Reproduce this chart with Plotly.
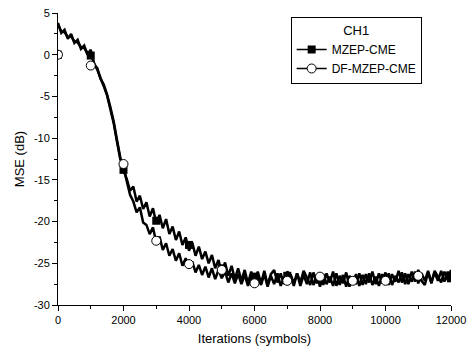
import plotly.graph_objects as go

# ---- data ----
step = 100
mzep_y = [
    3.8, 2.6, 3.0, 1.9, 2.5, 1.4, 1.8, 0.7, 1.1, 0.0,
    0.6, -1.2, -1.6, -2.9, -3.6, -4.8, -6.3, -8.0, -10.2, -12.3,
    -13.8, -14.9, -16.3, -15.8, -17.6, -16.9, -18.5, -17.7, -19.4, -18.4,
    -20.2, -19.2, -20.8, -19.7, -21.5, -20.6, -22.2, -21.2, -22.8, -21.9,
    -23.5, -22.5, -24.1, -23.0, -24.5, -23.6, -25.0, -24.0, -25.6, -24.6,
    -26.1, -24.9, -26.5, -25.3, -26.9, -25.6, -27.1, -25.8, -27.4, -26.0,
    -27.2,
    -26.0, -27.4, -25.9, -27.6, -26.3, -25.8, -27.3, -26.2, -27.5, -26.0,
    -26.4, -27.7, -26.2, -27.3, -25.9, -26.7, -27.6, -26.1, -27.4, -26.4,
    -27.6, -26.2, -27.3, -26.0, -27.7, -26.5, -27.4, -26.1, -27.8, -26.6,
    -27.5, -26.2, -27.6, -26.3, -27.3, -26.0, -27.5, -26.2, -27.4, -26.1,
    -27.6, -26.3, -27.2, -25.9, -27.3, -26.2, -27.5, -26.0, -27.2, -25.8,
    -27.1, -27.6, -26.1, -27.4, -25.9, -26.6, -27.3, -26.0, -27.0, -25.8,
]
df_y = [
    3.6, 2.8, 2.7, 2.1, 2.2, 1.6, 1.5, 0.9, 0.8, 0.2,
    0.3, -1.0, -1.8, -2.7, -3.8, -4.9, -6.5, -8.2, -10.4, -12.5,
    -13.5, -15.3, -16.8, -17.6, -18.9, -18.3, -20.1, -20.4, -21.5, -20.7,
    -22.5, -21.8, -23.4, -22.6, -24.1, -23.3, -24.7, -23.8, -25.3, -24.4,
    -25.5, -24.8, -26.1, -25.2, -26.4, -25.4, -26.7, -25.6, -26.9, -25.8,
    -26.8, -26.0, -27.3, -26.2, -27.4, -26.3, -27.5, -26.4,
    -27.7, -26.5, -27.8, -26.6, -27.6, -26.3, -27.8, -26.5, -27.5, -26.2,
    -27.7, -26.6, -27.6, -26.3, -27.4, -26.2, -27.7, -26.4, -27.5, -26.1,
    -27.6, -26.5, -27.8, -26.3, -27.5, -26.6, -27.7, -26.2, -27.6, -26.4,
    -27.8, -26.5, -27.4, -26.3, -27.7, -26.4, -27.5, -26.2, -27.6, -26.6,
    -27.7, -26.3, -27.4, -26.2, -27.6, -26.5, -27.3, -26.1, -27.5, -26.3,
    -27.2, -26.0, -27.4, -26.2, -27.1, -25.9, -27.3, -26.1, -27.1, -25.9,
    -27.2, -26.0, -27.0,
]
mzep_x = [i * step for i in range(len(mzep_y))]
df_x = [i * step for i in range(len(df_y))]

mzep_mk_x = [0, 1000, 2000, 3000, 4000, 5000, 6000, 7000, 8000, 9000, 10000, 11000, 12000]
mzep_mk_y = [0.0, -0.1, -13.8, -19.9, -22.8, -25.6, -26.6, -26.5, -26.8, -27.0, -26.8, -26.6, -26.8]
df_mk_x = [0, 1000, 2000, 3000, 4000, 5000, 6000, 7000, 8000, 9000, 10000, 11000]
df_mk_y = [0.0, -1.3, -13.1, -22.3, -25.1, -25.8, -27.4, -27.1, -26.6, -27.1, -27.1, -26.5]

x_ticks = [0, 2000, 4000, 6000, 8000, 10000, 12000]
y_ticks = [5, 0, -5, -10, -15, -20, -25, -30]

FONT = "Liberation Sans, Arial, sans-serif"

fig = go.Figure()
fig.add_trace(go.Scatter(x=mzep_x, y=mzep_y, mode="lines", line=dict(color="black", width=2.5),
                         showlegend=False, hoverinfo="skip"))
fig.add_trace(go.Scatter(x=df_x, y=df_y, mode="lines", line=dict(color="black", width=2.5),
                         showlegend=False, hoverinfo="skip"))
fig.add_trace(go.Scatter(x=mzep_mk_x, y=mzep_mk_y, mode="markers",
                         marker=dict(symbol="square", size=8, color="black"),
                         showlegend=False, legendgroup="a"))
fig.add_trace(go.Scatter(x=df_mk_x, y=df_mk_y, mode="markers",
                         marker=dict(symbol="circle", size=9, color="white",
                                     line=dict(color="black", width=1)),
                         showlegend=False, legendgroup="b"))
# legend entries
fig.add_trace(go.Scatter(x=[None], y=[None], mode="lines+markers", name="MZEP-CME",
                         line=dict(color="black", width=1.5),
                         marker=dict(symbol="square", size=8, color="black"), legendgroup="a"))
fig.add_trace(go.Scatter(x=[None], y=[None], mode="lines+markers", name="DF-MZEP-CME",
                         line=dict(color="black", width=1.5),
                         marker=dict(symbol="circle", size=9, color="white",
                                     line=dict(color="black", width=1)), legendgroup="b"))

axis_common = dict(showgrid=False, zeroline=False, showline=True, linecolor="black", linewidth=1,
                   ticks="outside", ticklen=5, tickcolor="black", tickwidth=1, automargin=False,
                   tickfont=dict(family=FONT, size=11, color="black"), mirror=False)

fig.update_xaxes(range=[0, 12000], tickvals=x_ticks, ticktext=[str(v) for v in x_ticks],
                 minor=dict(dtick=1000, ticks="outside", ticklen=3, tickcolor="black"),
                 title=dict(text="Iterations (symbols)", font=dict(family=FONT, size=13, color="black"),
                            standoff=8),
                 **axis_common)
fig.update_yaxes(range=[-30, 5], tickvals=y_ticks, ticktext=[str(v) for v in y_ticks],
                 minor=dict(dtick=2.5, tick0=0, ticks="outside", ticklen=3, tickcolor="black"),
                 title=dict(text="MSE (dB)", font=dict(family=FONT, size=13, color="black"),
                            standoff=6),
                 **axis_common)

fig.update_layout(
    width=471, height=350,
    margin=dict(l=58, r=20, t=13, b=45),
    paper_bgcolor="white", plot_bgcolor="white",
    font=dict(family=FONT, size=11, color="black"),
    legend=dict(x=0.592, y=0.986, xanchor="left", yanchor="top",
                bgcolor="white", bordercolor="black", borderwidth=1,
                font=dict(family=FONT, size=12, color="black"),
                title=dict(text="CH1", side="top center", font=dict(family=FONT, size=13)),
                tracegroupgap=0, itemwidth=30),
)

fig.write_html("out.html", config={"displayModeBar": False},
               post_script="document.body.style.margin='0';document.body.style.overflow='hidden';")
